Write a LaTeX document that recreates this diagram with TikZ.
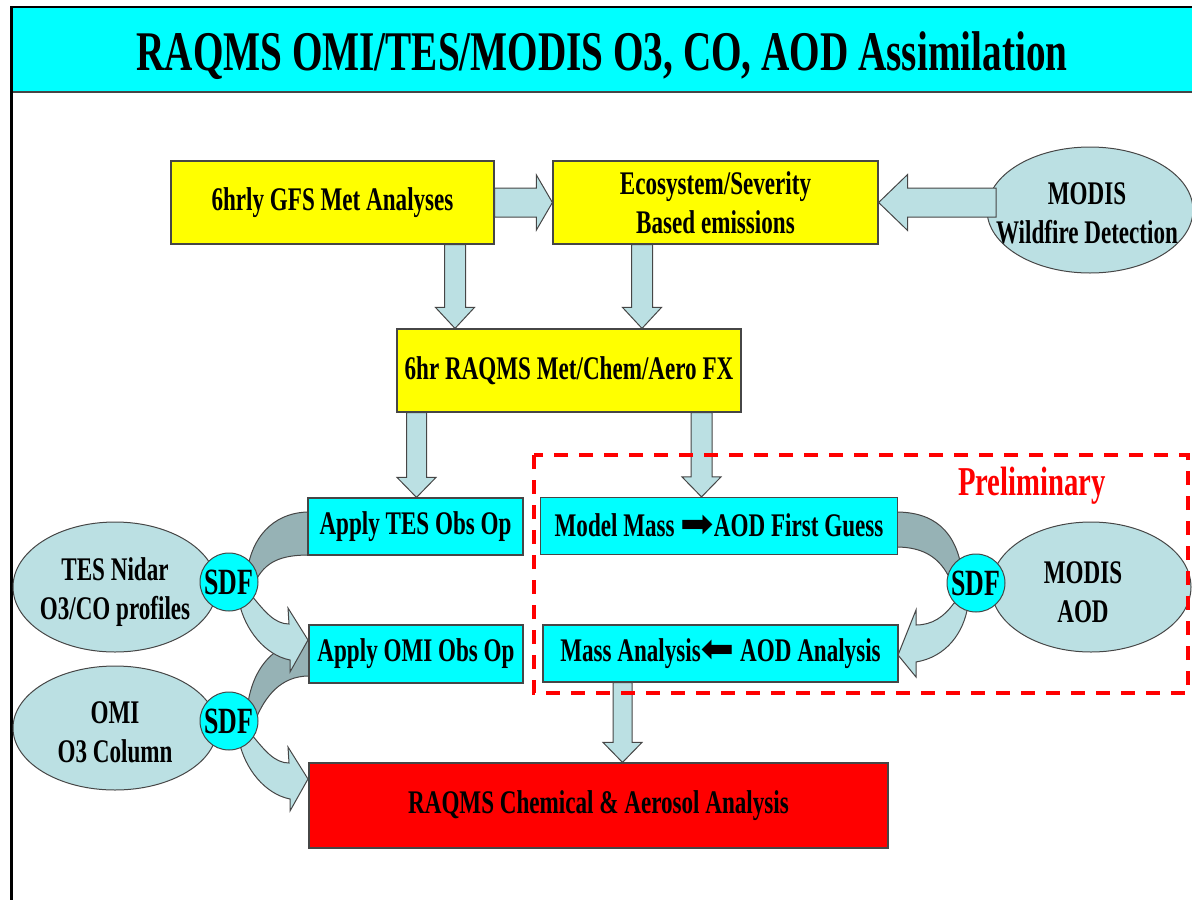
\documentclass[tikz,border=0pt]{standalone}
\usepackage{fontspec}
\usepackage{graphicx}
\newfontfamily\cond{Liberation Serif}[FakeStretch=0.7]
\newfontfamily\djv{DejaVu Sans}
\usetikzlibrary{calc,shapes.geometric}

\definecolor{cyanbox}{RGB}{0,255,255}
\definecolor{ylw}{RGB}{255,255,0}
\definecolor{lblue}{RGB}{187,224,227}
\definecolor{dband}{RGB}{150,178,181}
\definecolor{edge}{RGB}{70,70,70}
\definecolor{redbox}{RGB}{255,0,0}

\newcommand\boxfont{\cond\bfseries\fontsize{33}{39}\selectfont}
\newcommand\sdffont{\cond\bfseries\fontsize{37}{40}\selectfont}
\newcommand\titlefont{\cond\bfseries\fontsize{56}{60}\selectfont}
\newcommand\prelimfont{\cond\bfseries\fontsize{41}{45}\selectfont}
\newcommand\rarr{\raisebox{-1pt}{\djv\mdseries\fontsize{40}{40}\selectfont ➡}}
\newcommand\larr{\raisebox{-1pt}{\djv\mdseries\fontsize{40}{40}\selectfont\reflectbox{➡}}}

\tikzset{
  box/.style={draw=edge, line width=1.2pt, inner sep=0pt, font=\boxfont, align=center},
  ybox/.style={box, fill=ylw},
  cbox/.style={box, fill=cyanbox},
  rbox/.style={box, fill=redbox},
  ell/.style={ellipse, draw=edge, line width=1pt, fill=lblue, inner sep=0pt},
  lbl/.style={font=\boxfont, align=center, inner sep=0pt},
  sdf/.style={circle, draw=edge, line width=1pt, fill=cyanbox, inner sep=0pt, minimum size=58pt, font=\sdffont},
  arr/.style={fill=lblue, draw=edge, line width=1pt, line join=miter},
  band/.style={fill=dband, draw=edge, line width=1pt},
  prelim/.style={draw=red, line width=4pt, dash pattern=on 14pt off 11pt},
}

% start, tip, shaft half width, head half width, head length
\newcommand\blockarrow[5]{%
  \coordinate (ba-s) at #1;
  \coordinate (ba-t) at #2;
  \coordinate (ba-h) at ($(ba-t)!#5!(ba-s)$);
  \filldraw[arr] ($(ba-s)!#3!90:(ba-t)$) -- ($(ba-h)!#3!90:(ba-t)$) -- ($(ba-h)!#4!90:(ba-t)$) -- (ba-t)
     -- ($(ba-h)!#4!-90:(ba-t)$) -- ($(ba-h)!#3!-90:(ba-t)$) -- ($(ba-s)!#3!-90:(ba-t)$) -- cycle;}

\begin{document}
\begin{tikzpicture}[x=1pt,y=-1pt]
\useasboundingbox (0,0) rectangle (1192,900);

% title bar
\fill[cyanbox] (11,7) rectangle (1200,92);
\draw[edge, line width=2pt] (11,92) -- (1200,92);
\draw[black, line width=2.5pt] (1200,7) -- (11.5,7) -- (11.5,900);
\node[font=\titlefont, anchor=base, inner sep=0pt] (title) at (602,70) {RAQMS OMI/TES/MODIS O3, CO, AOD Assimilation};

% ellipses
\node[ell, minimum width=206pt, minimum height=126pt] (wild) at (1090,210) {};
\node[ell, minimum width=204pt, minimum height=130pt] (tesn) at (115,587) {};
\node[ell, minimum width=204pt, minimum height=124pt] (omie) at (115,728) {};
\node[ell, minimum width=200pt, minimum height=130pt] (modaod) at (1091,587) {};
\node[lbl] at (1087,213) {MODIS\\Wildfire Detection};
\node[lbl] at (115,592) {TES Nidar\\O3/CO profiles};
\node[lbl] at (115,732) {OMI\\O3 Column};
\node[lbl] at (1083,592) {MODIS\\AOD};

% SDF positions
\coordinate (s1) at (229,582);
\coordinate (s2) at (229,721);
\coordinate (s3) at (976,583);

% curved connectors
\begin{scope}[shift={(s1)}]
  \filldraw[band] (18,-10) .. controls (24,-52) and (51,-70) .. (80,-70) -- (80,-27)
     .. controls (51,-27) and (36,-20) .. (26,0) -- cycle;
\end{scope}
\begin{scope}[shift={(s2)}]
  \filldraw[band] (18,-10) .. controls (22,-55) and (48,-80) .. (80,-80) -- (80,-45)
     .. controls (52,-45) and (36,-25) .. (26,0) -- cycle;
\end{scope}
\begin{scope}[shift={(s1)}]
  \filldraw[arr] (23,14) .. controls (36,30) and (46,42) .. (60,42) -- (59,26) -- (79,58) -- (61,90) -- (61,78)
     .. controls (36,73) and (16,48) .. (10,20) -- cycle;
\end{scope}
\begin{scope}[shift={(s2)}]
  \filldraw[arr] (23,14) .. controls (36,30) and (46,42) .. (60,42) -- (59,26) -- (79,58) -- (61,90) -- (61,78)
     .. controls (36,73) and (16,48) .. (10,20) -- cycle;
\end{scope}
\begin{scope}[shift={(s3)}]
  \filldraw[band] (-80,-71) .. controls (-42,-71) and (-20,-52) .. (-14,-12) -- (-26,-4)
     .. controls (-36,-25) and (-52,-36) .. (-80,-36) -- cycle;
  \filldraw[arr] (-22,20) .. controls (-32,34) and (-44,42) .. (-60,42) -- (-60,27) -- (-78,72) -- (-60,94) -- (-60,79)
     .. controls (-30,74) and (-12,50) .. (-8,22) -- cycle;
\end{scope}

% SDF circles
\node[sdf] (sdf1) at (s1) {SDF};
\node[sdf] (sdf2) at (s2) {SDF};
\node[sdf] (sdf3) at (s3) {SDF};

% boxes
\node[ybox, minimum width=323pt, minimum height=83pt] (gfs) at (332.5,202.5) {6hrly GFS Met Analyses};
\node[ybox, minimum width=325pt, minimum height=83pt] (eco) at (715.5,202.5) {Ecosystem/Severity\\Based emissions};
\node[ybox, minimum width=344pt, minimum height=83pt] (fx) at (569,370.5) {6hr RAQMS Met/Chem/Aero FX};
\node[cbox, minimum width=215pt, minimum height=57pt] (tes) at (415.5,526.5) {Apply TES Obs Op};
\node[cbox, minimum width=214pt, minimum height=58pt] (omi) at (416,654) {Apply OMI Obs Op};
\node[cbox, minimum width=357pt, minimum height=57pt] (mm) at (719,526) {Model Mass \rarr AOD First Guess};
\node[cbox, minimum width=355pt, minimum height=57pt] (ma) at (720.5,653.5) {Mass Analysis\larr\ AOD Analysis};
\node[rbox, minimum width=579pt, minimum height=85pt] (chem) at (598.5,805.5) {RAQMS Chemical \& Aerosol Analysis};

% block arrows
\blockarrow{(455,0 |- gfs.south)}{(455,0 |- fx.north)}{10.5pt}{19.5pt}{21pt}
\blockarrow{(642,0 |- eco.south)}{(642,0 |- fx.north)}{10.5pt}{19.5pt}{21pt}
\blockarrow{(gfs.east)}{(eco.west)}{14.5pt}{27.5pt}{16pt}
\blockarrow{(996,0 |- eco.east)}{(eco.east)}{14.5pt}{28pt}{29pt}
\blockarrow{(416.5,0 |- fx.south)}{(416.5,0 |- tes.north)}{10pt}{19.5pt}{20pt}
\blockarrow{(701.5,0 |- fx.south)}{(701.5,0 |- mm.north)}{10.5pt}{19.5pt}{20pt}
\blockarrow{(622.5,0 |- ma.south)}{(622.5,0 |- chem.north)}{9.5pt}{19.5pt}{20pt}

% preliminary region
\draw[prelim] (534,455) rectangle (1188,693);
\node[font=\prelimfont, text=red, inner sep=0pt] (prelimtxt) at (1032,486) {Preliminary};

\end{tikzpicture}
\end{document}
